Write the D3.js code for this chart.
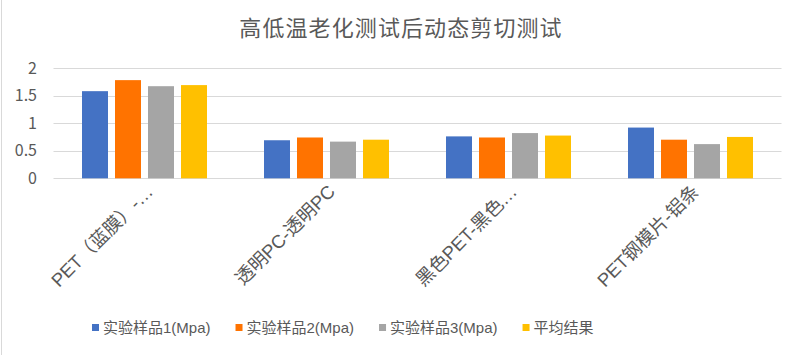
<!DOCTYPE html>
<html>
<head>
<meta charset="utf-8">
<script src="https://cdn.jsdelivr.net/npm/d3@7"></script>
<style>
  html, body { margin: 0; padding: 0; background: #fff; }
  svg { display: block; }
  text { font-family: "Liberation Sans", "Noto Sans CJK SC", sans-serif; fill: #595959; }
</style>
</head>
<body>
<svg id="chart" width="803" height="355"></svg>
<script>
const title = "高低温老化测试后动态剪切测试";
const categories = ["PET（蓝膜）-…", "透明PC-透明PC", "黑色PET-黑色…", "PET钢模片-铝条"];
const seriesNames = ["实验样品1(Mpa)", "实验样品2(Mpa)", "实验样品3(Mpa)", "平均结果"];
const sample1 = [1.58, 0.69, 0.76, 0.92];
const sample2 = [1.78, 0.74, 0.74, 0.70];
const sample3 = [1.67, 0.665, 0.82, 0.62];
const average = [1.69, 0.70, 0.775, 0.75];
const yTicks = [0, 0.5, 1, 1.5, 2];
const colors = ["#4472C4", "#FF7300", "#A5A5A5", "#FFC000"];

(function () {
const seriesValues = [sample1, sample2, sample3, average];
const svg = d3.select("#chart");
const fam = "'Liberation Sans', 'Noto Sans CJK SC', sans-serif";

svg.append("line").attr("x1", 1.5).attr("x2", 1.5).attr("y1", 0).attr("y2", 355)
  .attr("stroke", "#D9D9D9").attr("stroke-width", 1);

const plotLeft = 53.5, plotRight = 781.5, plotTop = 68, plotBottom = 178.3;

const x = d3.scaleBand().domain(categories).range([plotLeft, plotRight]).paddingInner(0).paddingOuter(0);
const x1 = d3.scaleBand().domain(seriesNames).range([28.5, 153.5]).paddingInner(7 / 33).paddingOuter(0);
const y = d3.scaleLinear().domain([0, 2]).range([plotBottom, plotTop]);

svg.append("text").attr("x", 401).attr("y", 36).attr("text-anchor", "middle")
  .style("font-family", "'Noto Sans CJK SC', sans-serif")
  .style("font-size", "22px").style("letter-spacing", "1.1px").text(title);

svg.append("g").selectAll("line").data(yTicks).join("line")
  .attr("x1", plotLeft).attr("x2", plotRight)
  .attr("y1", d => Math.round(y(d)) + 0.5).attr("y2", d => Math.round(y(d)) + 0.5)
  .attr("stroke", "#D9D9D9").attr("stroke-width", 1);

const yAxis = d3.axisLeft(y).tickValues(yTicks).tickFormat(d3.format("~g")).tickSize(0).tickPadding(0);
const gy = svg.append("g").attr("transform", "translate(37,0)").call(yAxis);
gy.select(".domain").remove();
gy.selectAll("text").style("font-size", "16px").attr("fill", "#595959")
  .style("font-family", "'Noto Sans CJK SC', sans-serif");

const groups = svg.append("g").selectAll("g").data(categories).join("g")
  .attr("transform", d => `translate(${x(d)},0)`);
groups.selectAll("rect")
  .data((c, i) => seriesNames.map((s, j) => ({ s, j, v: seriesValues[j][i] })))
  .join("rect")
  .attr("x", d => x1(d.s))
  .attr("width", x1.bandwidth())
  .attr("y", d => y(d.v))
  .attr("height", d => y(0) - y(d.v))
  .attr("fill", d => colors[d.j]);

const xAxis = d3.axisBottom(x).tickSize(0).tickPadding(0);
const gx = svg.append("g").attr("transform", `translate(0,${plotBottom})`).call(xAxis);
gx.select(".domain").remove();
gx.selectAll("text")
  .attr("fill", "#595959")
  .style("font-size", "18.5px")
  .style("font-family", fam)
  .attr("text-anchor", "end")
  .attr("y", 0).attr("dy", "0.35em")
  .attr("transform", "translate(5,10) rotate(-45)");

const legend = svg.append("g").attr("transform", "translate(92,0)");
let cursor = 0;
seriesNames.forEach((name, i) => {
  const g = legend.append("g").attr("transform", `translate(${cursor},0)`);
  g.append("rect").attr("x", 0).attr("y", 324).attr("width", 7).attr("height", 7).attr("fill", colors[i]);
  const t = g.append("text").attr("x", 11).attr("y", 333)
    .style("font-size", "15px").style("font-family", fam).text(name);
  cursor += 11 + t.node().getComputedTextLength() + 25;
});
})();
</script>
</body>
</html>
